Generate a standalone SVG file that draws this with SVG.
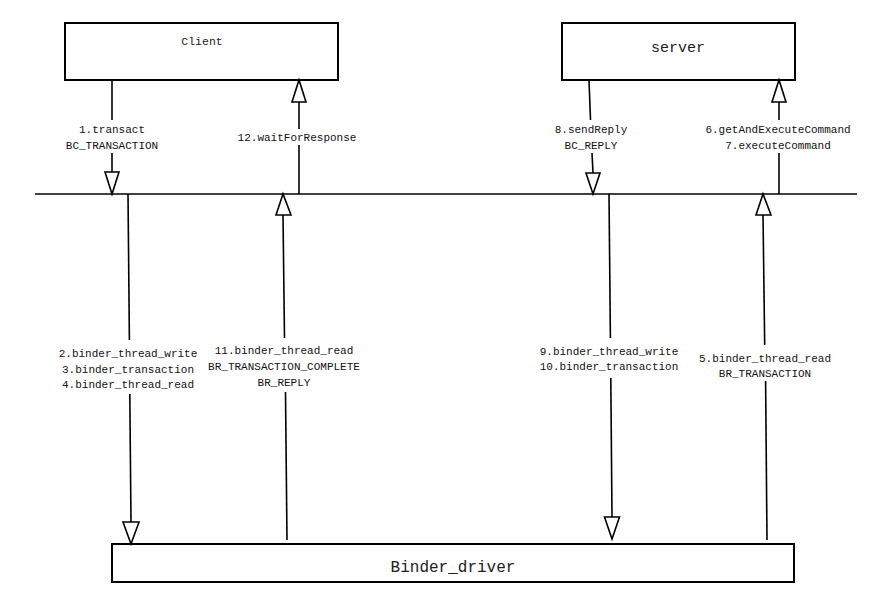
<svg xmlns="http://www.w3.org/2000/svg" width="884" height="607" viewBox="0 0 884 607">
<style>
.box{fill:#fff;stroke:#000;stroke-width:2}
.ln{stroke:#000;stroke-width:1.6;fill:none}
.ah{fill:#fff;stroke:#000;stroke-width:1.6;stroke-linejoin:miter}
.lb{font-family:"Liberation Mono","DejaVu Sans Mono",monospace;font-size:11px;fill:#111;text-anchor:middle}
.nt{font-family:"Liberation Mono","DejaVu Sans Mono",monospace;fill:#222;text-anchor:middle}
</style>
<rect width="884" height="607" fill="#fff"/>
<g id="client">
<rect class="box" x="65" y="23" width="273" height="57"/>
<text class="nt" x="202" y="45" font-size="11.5" fill="#444">Client</text>
</g>
<g id="server">
<rect class="box" x="562" y="23" width="233" height="57"/>
<text class="nt" x="678" y="52" font-size="15">server</text>
</g>
<g id="binder_driver">
<rect class="box" x="112" y="544" width="682" height="38"/>
<text class="nt" x="453" y="572" font-size="16">Binder_driver</text>
</g>
<g id="bus">
<line class="ln" x1="35" y1="194" x2="857" y2="194"/>
</g>
<g id="connectors">
<!-- 1 transact -->
<line class="ln" x1="112" y1="80" x2="112" y2="120"/>
<line class="ln" x1="112" y1="153" x2="112" y2="172"/>
<polygon class="ah" points="105,172 119,172 112,194"/>
<!-- 12 waitForResponse -->
<polygon class="ah" points="292,102 306,102 299,80"/>
<line class="ln" x1="299" y1="102" x2="299" y2="129"/>
<line class="ln" x1="299" y1="145" x2="299" y2="194"/>
<!-- 8 sendReply -->
<line class="ln" x1="589" y1="80" x2="590.5" y2="120"/>
<line class="ln" x1="592" y1="153" x2="593" y2="173"/>
<polygon class="ah" points="586,173 600,173 593,194"/>
<!-- 6/7 -->
<polygon class="ah" points="772,102 786,102 779,80"/>
<line class="ln" x1="779" y1="102" x2="779" y2="120"/>
<line class="ln" x1="779" y1="153" x2="779" y2="194"/>
<!-- 2-4 -->
<line class="ln" x1="128" y1="194" x2="129.4" y2="340"/>
<line class="ln" x1="129.8" y1="394" x2="131" y2="522"/>
<polygon class="ah" points="123,522 139,522 131,544"/>
<!-- 11 -->
<polygon class="ah" points="276,215 291,215 283,194"/>
<line class="ln" x1="283" y1="215" x2="284.5" y2="338"/>
<line class="ln" x1="285.5" y1="392" x2="287" y2="540"/>
<!-- 9/10 -->
<line class="ln" x1="609" y1="194" x2="610.4" y2="338"/>
<line class="ln" x1="610.8" y1="378" x2="612" y2="517"/>
<polygon class="ah" points="604.5,517 619.5,517 612,539"/>
<!-- 5 -->
<polygon class="ah" points="756,215 771,215 763,194"/>
<line class="ln" x1="763" y1="215" x2="764.7" y2="345"/>
<line class="ln" x1="765.6" y1="381" x2="767" y2="540"/>
</g>
<g id="labels">
<text class="lb" x="112" y="133">1.transact</text>
<text class="lb" x="112" y="149">BC_TRANSACTION</text>
<text class="lb" x="297" y="141">12.waitForResponse</text>
<text class="lb" x="591" y="133">8.sendReply</text>
<text class="lb" x="591" y="149">BC_REPLY</text>
<text class="lb" x="778" y="133">6.getAndExecuteCommand</text>
<text class="lb" x="778" y="149">7.executeCommand</text>
<text class="lb" x="128" y="357">2.binder_thread_write</text>
<text class="lb" x="128" y="373">3.binder_transaction</text>
<text class="lb" x="128" y="388">4.binder_thread_read</text>
<text class="lb" x="284" y="354">11.binder_thread_read</text>
<text class="lb" x="284" y="370">BR_TRANSACTION_COMPLETE</text>
<text class="lb" x="284" y="386">BR_REPLY</text>
<text class="lb" x="609" y="355">9.binder_thread_write</text>
<text class="lb" x="609" y="370">10.binder_transaction</text>
<text class="lb" x="765" y="362">5.binder_thread_read</text>
<text class="lb" x="765" y="377">BR_TRANSACTION</text>
</g>
</svg>
